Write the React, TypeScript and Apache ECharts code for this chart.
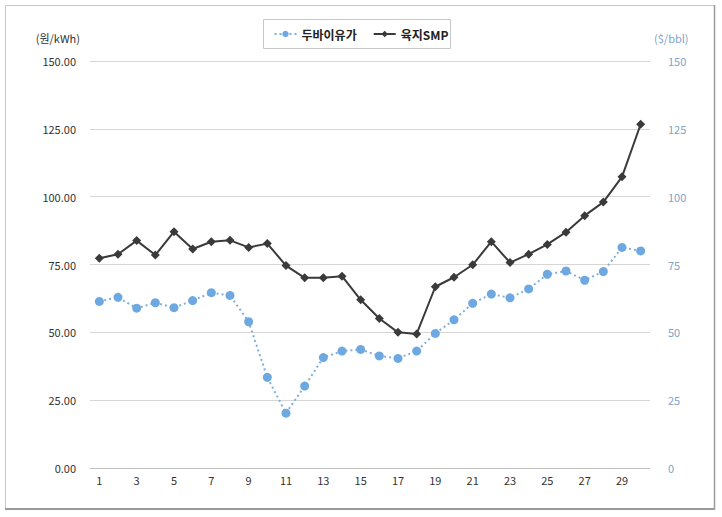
import React, { useEffect, useRef } from "react";
import * as echarts from "echarts";

const days = ["1","2","3","4","5","6","7","8","9","10","11","12","13","14","15","16","17","18","19","20","21","22","23","24","25","26","27","28","29","30"];
const dubaiOil = [61.4,62.9,58.9,60.9,59.1,61.7,64.6,63.6,53.9,33.4,20.2,30.2,40.7,43.1,43.7,41.3,40.4,43.1,49.6,54.6,60.7,64.1,62.7,66.0,71.4,72.6,69.2,72.4,81.3,80.0];
const mainlandSMP = [77.3,78.8,83.8,78.5,87.1,80.7,83.4,83.9,81.3,82.7,74.6,70.1,70.1,70.7,62.0,55.1,50.0,49.4,66.8,70.3,74.9,83.4,75.7,78.8,82.4,86.9,93.0,98.0,107.3,126.7];
const seriesNames = ["두바이유가", "육지SMP"];
const leftAxisName = "(원/kWh)";
const rightAxisName = "($/bbl)";

const FONT = "'Noto Sans CJK KR', 'Noto Sans', sans-serif";

export default function App() {
  const ref = useRef<HTMLDivElement>(null);
  useEffect(() => {
    if (!ref.current) return;
    const chart = echarts.init(ref.current, null, { renderer: "svg" });
    chart.setOption({
      animation: false,
      backgroundColor: "#fff",
      textStyle: { fontFamily: FONT },
      graphic: [
        { type: "rect", shape: { x: 5.5, y: 5.5, width: 709, height: 503 }, style: { fill: "none", stroke: "#c8c8c8", lineWidth: 1 }, silent: true },
        { type: "line", shape: { x1: 5, y1: 509, x2: 715, y2: 509 }, style: { stroke: "#9a9a9a", lineWidth: 2 }, silent: true },
        { type: "line", shape: { x1: 714.5, y1: 5, x2: 714.5, y2: 510 }, style: { stroke: "#9a9a9a", lineWidth: 1.5 }, silent: true },
        { type: "rect", shape: { x: 263.5, y: 19.5, width: 187, height: 29 }, style: { fill: "none", stroke: "#c8c8c8", lineWidth: 1 }, silent: true },
      ],
      legend: {
        top: 23,
        left: "center",
        itemGap: 16,
        itemWidth: 22,
        itemHeight: 8,
        textStyle: { fontFamily: FONT, fontSize: 12, color: "#222", fontWeight: "bold" },
        data: seriesNames,
      },
      grid: { left: 90, right: 72, top: 61, bottom: 49, containLabel: false },
      xAxis: {
        type: "category",
        data: days,
        boundaryGap: true,
        axisLine: { lineStyle: { color: "#c0c0c0" } },
        axisTick: { alignWithLabel: true, interval: 1, length: 9, lineStyle: { color: "#c0c0c0" } },
        axisLabel: { interval: 1, color: "#333", fontSize: 11, margin: 6 },
      },
      yAxis: [
        {
          type: "value",
          min: 0, max: 150, interval: 25,
          name: leftAxisName,
          nameLocation: "end",
          nameGap: 18,
          nameTextStyle: { color: "#333", fontSize: 11, align: "right", padding: [0, 10, 0, 0] },
          axisLine: { show: false },
          axisTick: { show: false },
          axisLabel: { color: "#333", fontSize: 11, margin: 14, formatter: (v: number) => v.toFixed(2) },
          splitLine: { lineStyle: { color: "#d6d6d6" } },
        },
        {
          type: "value",
          min: 0, max: 150, interval: 25,
          name: rightAxisName,
          nameLocation: "end",
          nameGap: 18,
          nameTextStyle: { color: "#7fa3c8", fontSize: 11, align: "left", padding: [0, 0, 0, 4] },
          axisLine: { show: false },
          axisTick: { show: false },
          axisLabel: { color: "#7fa3c8", fontSize: 11, margin: 18 },
          splitLine: { show: false },
        },
      ],
      series: [
        {
          name: seriesNames[0],
          type: "line",
          yAxisIndex: 1,
          data: dubaiOil,
          symbol: "circle",
          symbolSize: 9,
          itemStyle: { color: "#6ea8e0" },
          lineStyle: { color: "#7fb0dd", width: 2, type: [2, 3] },
          z: 2,
        },
        {
          name: seriesNames[1],
          type: "line",
          yAxisIndex: 0,
          data: mainlandSMP,
          symbol: "diamond",
          symbolSize: 9,
          itemStyle: { color: "#3a3a3a" },
          lineStyle: { color: "#3a3a3a", width: 2 },
          z: 3,
        },
      ],
    });
    return () => chart.dispose();
  }, []);
  return (
    <div style={{ position: "fixed", left: 0, top: 0, width: 722, height: 517, background: "#fff" }}>
      <div ref={ref} style={{ width: 722, height: 517 }} />
    </div>
  );
}
